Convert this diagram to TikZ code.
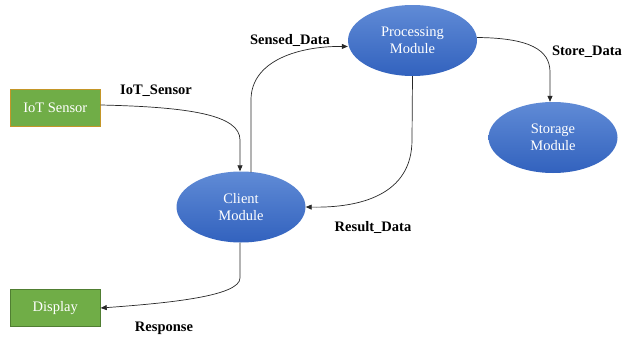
\documentclass[tikz,border=0pt]{standalone}
\usepackage{fontspec}
\setmainfont{Liberation Serif}
\usetikzlibrary{shapes.geometric,arrows.meta}
\definecolor{modtop}{RGB}{96,139,214}
\definecolor{modbot}{RGB}{50,98,190}
\definecolor{boxgreen}{RGB}{112,173,71}
\definecolor{sensoredge}{RGB}{196,150,40}
\definecolor{displayedge}{RGB}{80,126,50}
\definecolor{wire}{RGB}{40,40,40}
\begin{document}
\begin{tikzpicture}[x=1pt,y=-1pt,
  module/.style={ellipse, minimum width=129pt, minimum height=71pt, inner sep=0pt,
    top color=modtop, bottom color=modbot, draw=none, text=white, align=center,
    font=\fontsize{14.5}{17}\selectfont},
  device/.style={rectangle, minimum width=90pt, minimum height=37pt, inner sep=0pt,
    fill=boxgreen, line width=0.8pt, text=white, font=\fontsize{14.5}{17}\selectfont},
  flow/.style={draw=wire, line width=0.7pt, -{Triangle[length=6pt,width=5pt]}},
  tag/.style={font=\fontsize{14.5}{17}\selectfont\bfseries, text=black}]
  \fill[white] (0,0) rectangle (622,340);
  \useasboundingbox (0,0) rectangle (622,340);

  % devices and modules
  \node[device, draw=sensoredge] (iot) at (55.3,108) {IoT Sensor};
  \node[device, draw=displayedge] (disp) at (55.3,308) {Display};
  \node[module] (client) at (241,207) {Client\\Module};
  \node[module] (proc) at (412.5,40.5) {Processing\\Module};
  \node[module] (store) at (553,137.5) {Storage\\Module};

  % data flows
  \draw[flow] ([yshift=3pt]iot.east) .. controls (190,107) and (240,115) .. (240,140)
    -- ([xshift=-1pt]client.north);
  \draw[flow] ([xshift=10pt,yshift=-1pt]client.north) -- (251,100)
    .. controls (251,60) and (300,46) .. ([yshift=-6pt]proc.west);
  \draw[flow] (proc.south) -- (412,140) .. controls (412,195) and (360,208) .. (client.east);
  \draw[flow] ([yshift=3pt]proc.east) .. controls (530,38) and (550,50) .. (550,72)
    -- ([xshift=-3pt]store.north);
  \draw[flow] ([xshift=-1pt]client.south) -- (240,278)
    .. controls (240,296) and (170,303) .. (disp.east);

  % flow labels
  \node[tag] (lIoT) at (156,91) {IoT\_Sensor};
  \node[tag] (lSensed) at (290,40) {Sensed\_Data};
  \node[tag] (lResult) at (373,227) {Result\_Data};
  \node[tag] (lStore) at (587,52) {Store\_Data};
  \node[tag] (lResp) at (164,328) {Response};
\end{tikzpicture}
\end{document}
